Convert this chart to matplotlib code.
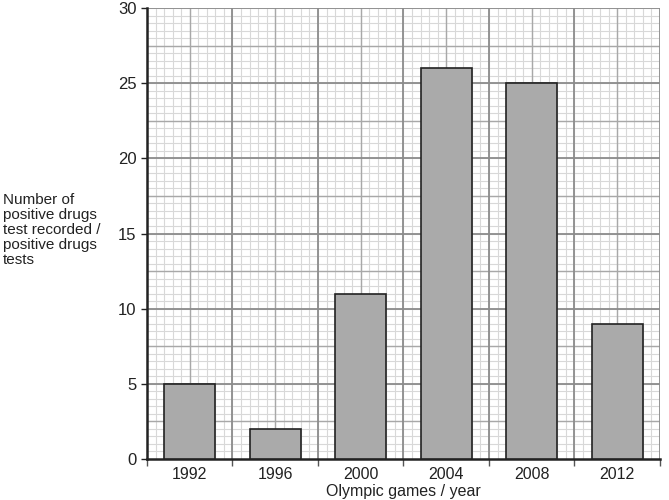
import numpy as np
import matplotlib.pyplot as plt

years = ["1992", "1996", "2000", "2004", "2008", "2012"]
tests = [5, 2, 11, 26, 25, 9]

plt.rcParams["font.family"] = ["Liberation Sans", "DejaVu Sans"]

fig = plt.figure(figsize=(6.69, 5), dpi=100)
ax = fig.add_axes([0.2197, 0.082, 0.7668, 0.902])

n = len(years)
ax.set_xlim(0, n)
ax.set_ylim(0, 30)

# graph-paper grid
for x in np.arange(0, n + 0.001, 0.1):
    ax.axvline(x, color="#d8d8d8", lw=0.8, zorder=0)
for y in np.arange(0, 30.001, 0.5):
    ax.axhline(y, color="#d8d8d8", lw=0.8, zorder=0)
for x in np.arange(0.5, n, 1.0):
    ax.axvline(x, color="#a8a8a8", lw=1.0, zorder=0)
for y in np.arange(2.5, 30, 5.0):
    ax.axhline(y, color="#a8a8a8", lw=1.0, zorder=0)
for x in np.arange(1, n + 0.001, 1.0):
    ax.axvline(x, color="#8c8c8c", lw=1.3, zorder=0)
for y in np.arange(5, 30.001, 5.0):
    ax.axhline(y, color="#8c8c8c", lw=1.3, zorder=0)

pos = np.arange(n) + 0.5
ax.bar(pos, tests, width=0.6, color="#aaaaaa", edgecolor="#222222", lw=1.2, zorder=3)

ax.set_xticks(np.arange(0, n + 1))
ax.set_xticklabels([])
ax.set_xticks(pos, minor=True)
ax.set_xticklabels(years, minor=True)
ax.tick_params(axis="x", which="minor", length=0, labelsize=11.5, pad=6, colors="#222222")
ax.tick_params(axis="x", which="major", length=5, width=1, color="#555555")
ax.set_yticks(np.arange(0, 31, 5))
ax.tick_params(axis="y", length=4, width=1, labelsize=12, colors="#222222")

for s in ["top", "right"]:
    ax.spines[s].set_visible(False)
ax.spines["left"].set_linewidth(1.8)
ax.spines["bottom"].set_linewidth(1.8)
ax.spines["left"].set_color("#222222")
ax.spines["bottom"].set_color("#222222")

ax.set_xlabel("Olympic games / year", fontsize=11.5, color="#222222", labelpad=1)
fig.text(0.004, 0.54, "Number of\npositive drugs\ntest recorded /\npositive drugs\ntests",
         fontsize=11, color="#222222", ha="left", va="center", linespacing=1.1)

fig.savefig("out.png", dpi=100)
